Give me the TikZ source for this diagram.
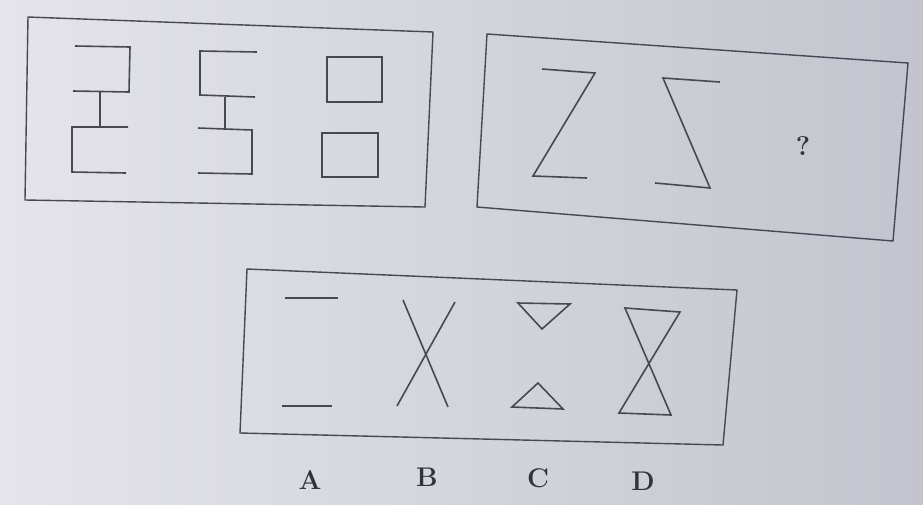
\documentclass[tikz,border=0pt]{standalone}
\begin{document}
\definecolor{paper}{RGB}{214,214,222}
\definecolor{paperlight}{RGB}{228,228,234}
\definecolor{paperdark}{RGB}{196,196,206}
\definecolor{ink}{RGB}{72,72,84}
\begin{tikzpicture}[x=1pt,y=-1pt,
  fig/.style={ink,line width=1.6pt,line join=miter},
  frame/.style={ink,line width=1.4pt},
  choice/.style={ink!70!black,font=\fontsize{27}{27}\selectfont\bfseries}]
  \shade[left color=paperlight,right color=paperdark] (0,0) rectangle (923,504);
  \useasboundingbox (0,0) rectangle (923,504);
  % first box
  \draw[frame] (28,17)--(433,32)--(425,207)--(25,200)--cycle;
  \draw[fig] (75,46)--(130,47)--(129,92)--(73,91);
  \draw[fig] (100,92)--(100,127);
  \draw[fig] (128,127)--(72,127)--(72,172)--(126,173);
  \draw[fig] (257,52)--(200,51)--(200,95)--(255,97);
  \draw[fig] (225,97)--(225,129);
  \draw[fig] (198,128)--(252,130)--(252,174)--(198,173);
  \draw[fig] (327,57) rectangle (382,102);
  \draw[fig] (322,133) rectangle (378,177);
  % second box
  \draw[frame] (487,34)--(908,63)--(893,241)--(477,207)--cycle;
  \draw[fig] (542,69)--(595,73)--(533,176)--(587,178);
  \draw[fig] (720,82)--(663,78)--(710,188)--(655,183);
  \node[choice] (ask) at (803,146) {?};
  % options box
  \draw[frame] (247,269)--(737,290)--(723,445)--(240,433)--cycle;
  \draw[fig] (285,298)--(338,298);
  \draw[fig] (282,406)--(332,406);
  \draw[fig] (403,300)--(448,407);
  \draw[fig] (455,302)--(397,406);
  \draw[fig] (518,303)--(570,304)--(542,329)--cycle;
  \draw[fig] (538,383)--(563,409)--(512,407)--cycle;
  \draw[fig] (625,308)--(680,312)--(619,413)--(671,415)--cycle;
  \node[choice] (optA) at (310,480) {A};
  \node[choice] (optB) at (427,477) {B};
  \node[choice] (optC) at (538,478) {C};
  \node[choice] (optD) at (643,481) {D};
\end{tikzpicture}
\end{document}
